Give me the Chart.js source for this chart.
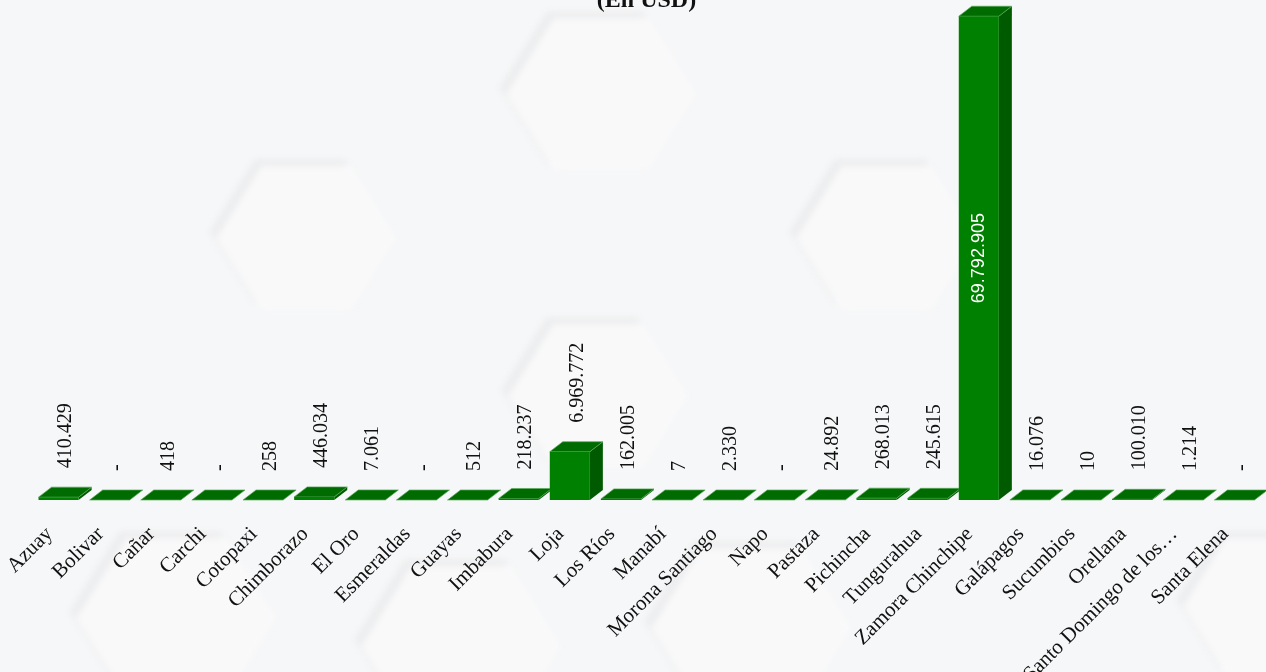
<!DOCTYPE html>
<html>
<head>
<meta charset="utf-8">
<script src="https://cdn.jsdelivr.net/npm/chart.js@4/dist/chart.umd.min.js"></script>
<style>
  html, body { margin: 0; padding: 0; }
  body { width: 1266px; height: 672px; overflow: hidden; background: #f6f7f8; position: relative; }
  .hex-wrap { position: absolute; filter: blur(3px); }
  .hex { position: absolute; left: 0; top: 0; width: 100%; height: 100%; background: #ebeced;
         clip-path: polygon(25% 0, 75% 0, 100% 50%, 75% 100%, 25% 100%, 0 50%); }
  .hex.inner { left: 6px; top: 6px; background: #f9f9fa; }
  #wrap { position: absolute; left: 0; top: 0; width: 1266px; height: 672px; }
</style>
</head>
<body>
<div id="bg"></div>
<div id="wrap"><canvas id="chart"></canvas></div>
<script>
// provinces and amounts (USD)
const provinces = ['Azuay', 'Bolivar', 'Cañar', 'Carchi', 'Cotopaxi', 'Chimborazo', 'El Oro',
  'Esmeraldas', 'Guayas', 'Imbabura', 'Loja', 'Los Ríos', 'Manabí', 'Morona Santiago', 'Napo',
  'Pastaza', 'Pichincha', 'Tungurahua', 'Zamora Chinchipe', 'Galápagos', 'Sucumbios', 'Orellana',
  'Santo Domingo de los…', 'Santa Elena'];
const amounts = [410429, 0, 418, 0, 258, 446034, 7061, 0, 512, 218237, 6969772, 162005, 7, 2330,
  0, 24892, 268013, 245615, 69792905, 16076, 10, 100010, 1214, 0];
const yMax = 70000000;

// background hexagons
[[595, 88, 190], [300, 232, 180], [880, 232, 180], [592, 390, 180],
 [170, 612, 200], [455, 640, 200], [745, 622, 200], [1262, 600, 170]].forEach(([cx, cy, w]) => {
  const h = w * 0.8;
  const d = document.createElement('div');
  d.className = 'hex-wrap';
  d.style.cssText = `left:${cx - w / 2}px;top:${cy - h / 2}px;width:${w}px;height:${h}px`;
  d.innerHTML = '<div class="hex"></div><div class="hex inner"></div>';
  document.getElementById('bg').appendChild(d);
});

const fmt = v => v === 0 ? '-' : String(v).replace(/\B(?=(\d{3})+(?!\d))/g, '.');

const DX = 13, DY = 10;

// side + top faces of the 3D bars
const bar3d = {
  id: 'bar3d',
  beforeDatasetsDraw(chart) {
    const ctx = chart.ctx;
    chart.getDatasetMeta(0).data.forEach(bar => {
      const { x, y, base, width } = bar.getProps(['x', 'y', 'base', 'width'], true);
      const l = x - width / 2, r = x + width / 2;
      ctx.save();
      if (base - y > 0.5) {
        ctx.fillStyle = '#005a00';
        ctx.beginPath();
        ctx.moveTo(r, y); ctx.lineTo(r + DX, y - DY); ctx.lineTo(r + DX, base - DY); ctx.lineTo(r, base);
        ctx.closePath(); ctx.fill();
      }
      ctx.fillStyle = '#006b00';
      ctx.strokeStyle = 'rgba(90,170,90,0.7)';
      ctx.lineWidth = 1;
      ctx.beginPath();
      ctx.moveTo(l, y); ctx.lineTo(r, y); ctx.lineTo(r + DX, y - DY); ctx.lineTo(l + DX, y - DY);
      ctx.closePath(); ctx.fill(); ctx.stroke();
      ctx.restore();
    });
  }
};

// rotated value labels
const valueLabels = {
  id: 'valueLabels',
  afterDatasetsDraw(chart) {
    const ctx = chart.ctx;
    const maxIdx = amounts.indexOf(Math.max(...amounts));
    chart.getDatasetMeta(0).data.forEach((bar, i) => {
      const { x, y, base } = bar.getProps(['x', 'y', 'base'], true);
      ctx.save();
      ctx.textBaseline = 'middle';
      if (i === maxIdx) {
        ctx.translate(x, (y + base) / 2);
        ctx.rotate(-Math.PI / 2);
        ctx.textAlign = 'center';
        ctx.fillStyle = '#ffffff';
        ctx.font = '18px "Liberation Sans"';
      } else {
        ctx.translate(x + DX / 2 + 1, y - DY - 19);
        ctx.rotate(-Math.PI / 2);
        ctx.textAlign = 'left';
        ctx.fillStyle = '#111';
        ctx.font = '20px "Liberation Serif"';
      }
      ctx.fillText(fmt(amounts[i]), 0, 0);
      ctx.restore();
    });
  }
};

new Chart(document.getElementById('chart'), {
  type: 'bar',
  data: {
    labels: provinces,
    datasets: [{
      data: amounts,
      backgroundColor: '#008000',
      borderWidth: 0,
      categoryPercentage: 0.8,
      barPercentage: 0.98
    }]
  },
  options: {
    responsive: true,
    maintainAspectRatio: false,
    animation: false,
    layout: { padding: { left: 33, right: 6, top: 0, bottom: 0 } },
    plugins: {
      legend: { display: false },
      tooltip: { enabled: false },
      title: {
        display: true,
        text: '(En USD)',
        color: '#111',
        font: { family: 'Liberation Serif', size: 24, weight: 'bold' },
        padding: { top: -14, bottom: 0 }
      }
    },
    scales: {
      x: {
        grid: { display: false, drawTicks: false },
        border: { display: false },
        ticks: {
          autoSkip: false, maxRotation: 45, minRotation: 45, padding: 22, labelOffset: -9,
          color: '#111', font: { family: 'Liberation Serif', size: 21 }
        },
        afterFit: s => { s.height = 172; s.paddingLeft = 0; s.paddingRight = 0; }
      },
      y: { display: false, min: 0, max: yMax }
    }
  },
  plugins: [bar3d, valueLabels]
});
</script>
</body>
</html>
